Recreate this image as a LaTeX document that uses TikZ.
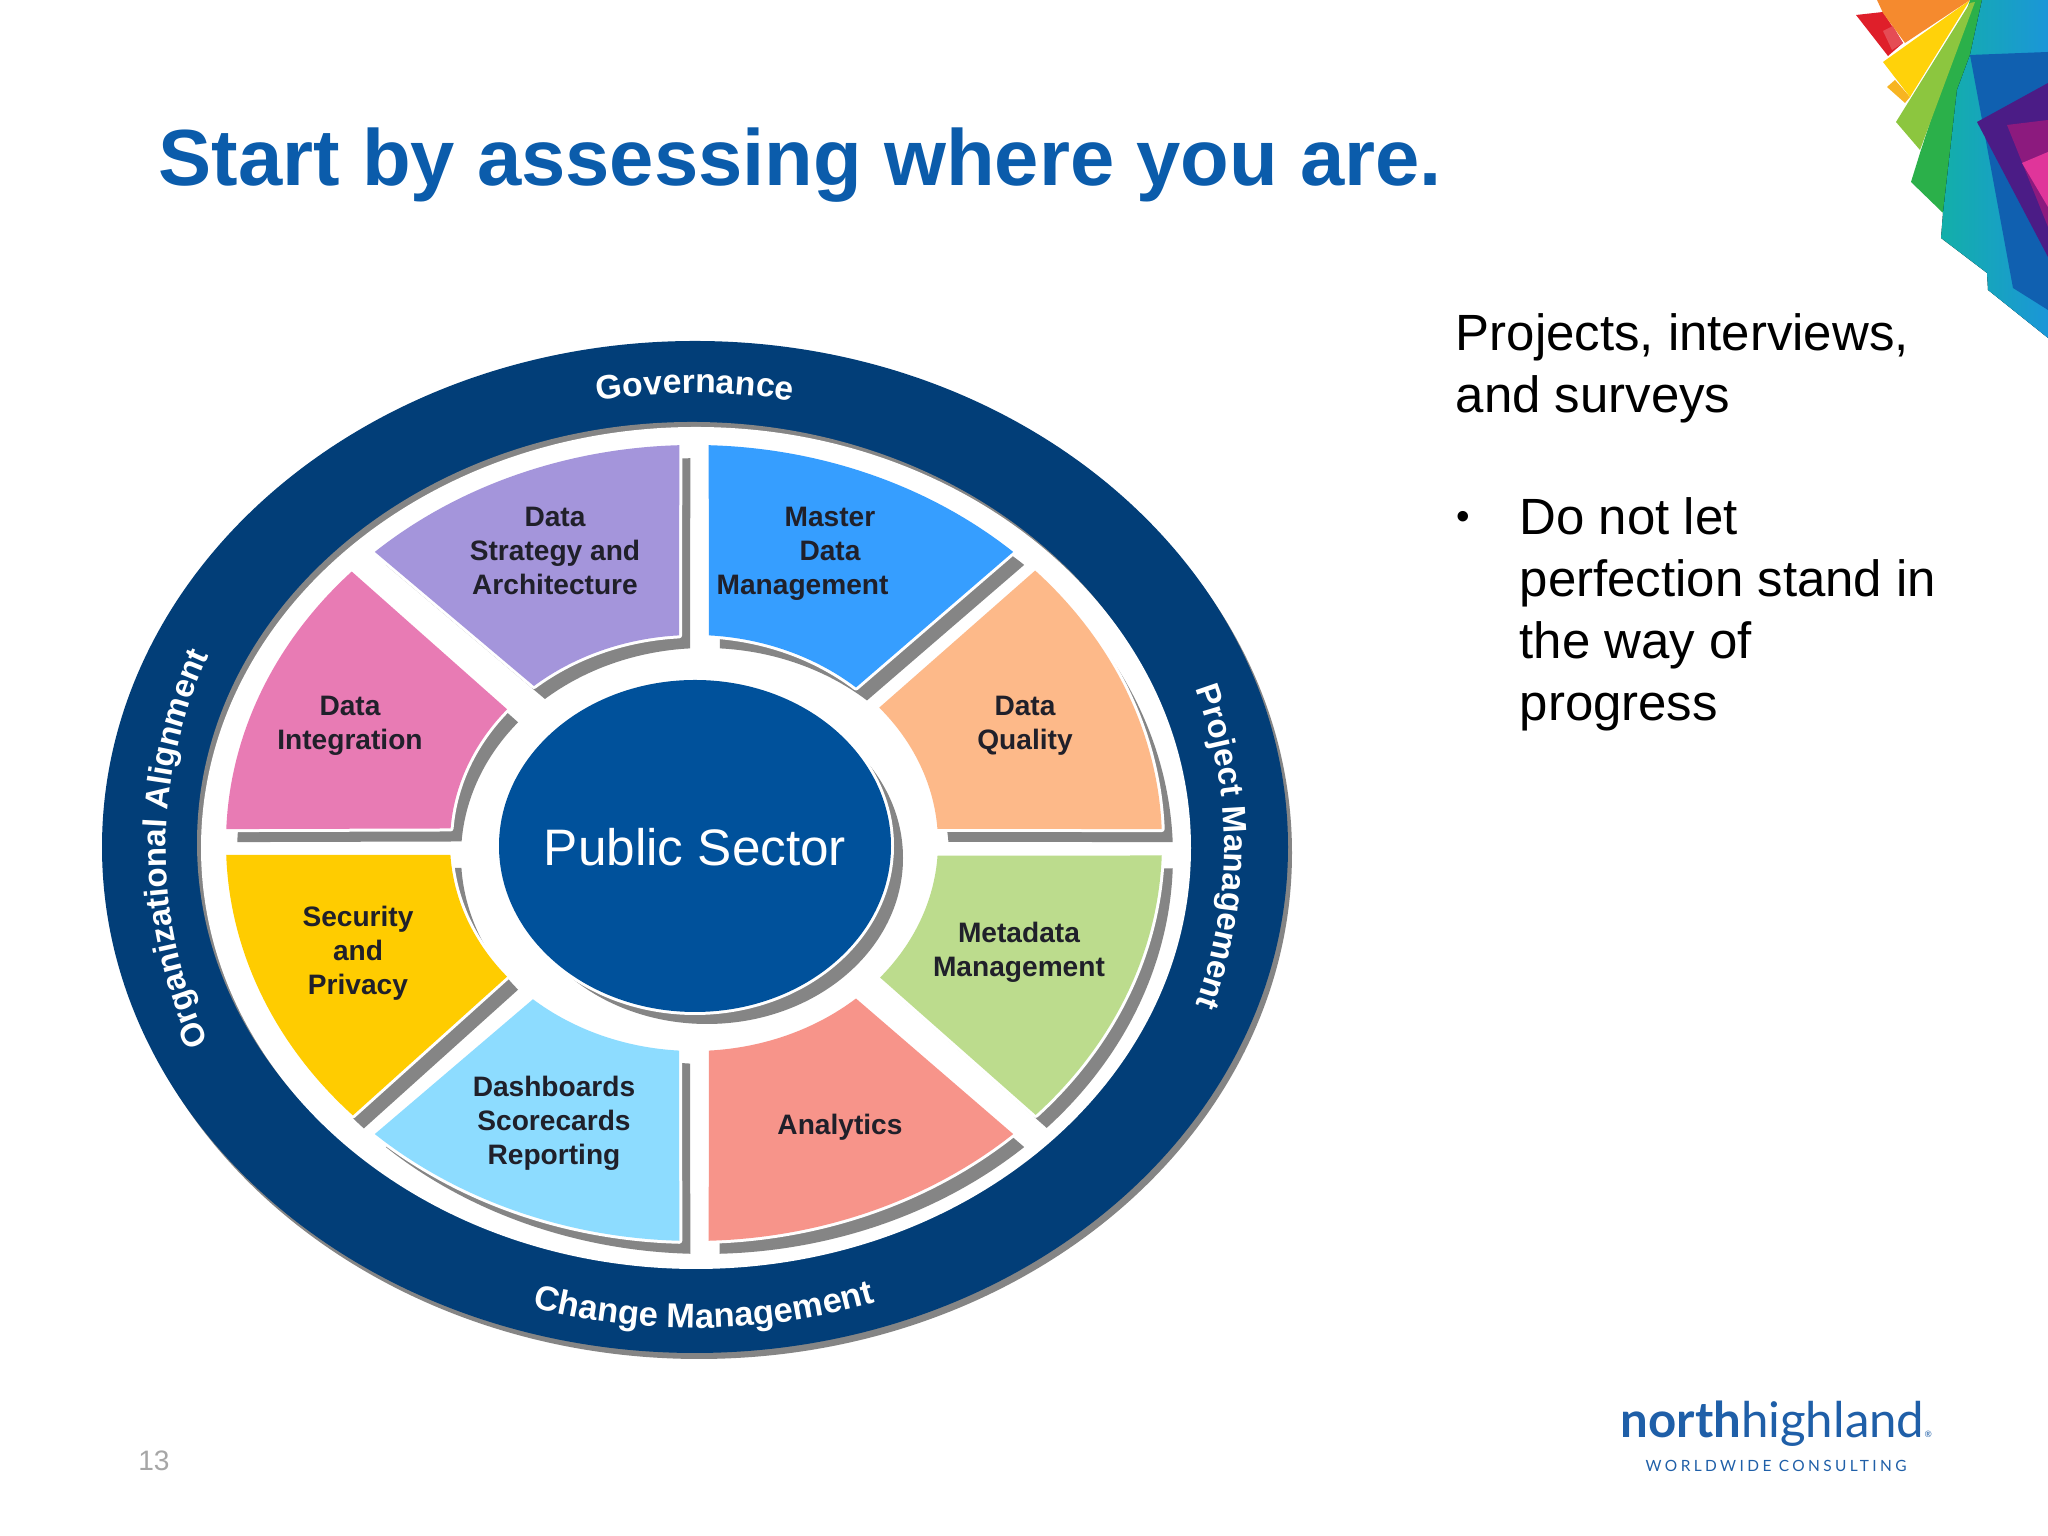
\documentclass[tikz,border=0pt]{standalone}
\usepackage{fontspec}
\setmainfont{Liberation Sans}
\newfontfamily\logofont{Lato}
\usetikzlibrary{decorations.text}
\definecolor{ringblue}{HTML}{023E78}
\definecolor{hubblue}{HTML}{00519B}
\definecolor{titleblue}{HTML}{0B5CAB}
\definecolor{logoblue}{HTML}{1F5FA8}
\definecolor{shadegray}{HTML}{858585}
\definecolor{labelink}{HTML}{20202A}
\definecolor{petalpurple}{HTML}{A495DB}
\definecolor{petalblue}{HTML}{369EFF}
\definecolor{petalorange}{HTML}{FDB989}
\definecolor{petalgreen}{HTML}{BCDC8D}
\definecolor{petalsalmon}{HTML}{F7948A}
\definecolor{petalsky}{HTML}{8DDCFF}
\definecolor{petalyellow}{HTML}{FFCC00}
\definecolor{petalpink}{HTML}{E87BB4}
\definecolor{fanorange}{HTML}{F58A2E}
\definecolor{fanred}{HTML}{DF1F2A}
\definecolor{fanyellow}{HTML}{FFD20A}
\definecolor{fanamber}{HTML}{F7B422}
\definecolor{fanlime}{HTML}{8CC63F}
\definecolor{fangreen}{HTML}{2BB04A}
\definecolor{fanteal}{HTML}{13AFA9}
\definecolor{fansky}{HTML}{1B96D8}
\definecolor{fanblue}{HTML}{1060B0}
\definecolor{fanviolet}{HTML}{4B1C86}
\definecolor{fanplum}{HTML}{8C1A7E}
\definecolor{fanpink}{HTML}{E0359A}
\newcommand{\ringfont}{\color{white}\bfseries\fontsize{9.6}{11}\selectfont}
\newcommand{\sidefont}{\color{white}\bfseries\fontsize{9.4}{11}\selectfont}
\newcommand{\lowfont}{\color{white}\bfseries\fontsize{9.8}{11}\selectfont}
\newcommand{\petal}[5]{%
	\def\petalshape{(#2:4.68 and 3.98) arc[start angle=#2,end angle=#3,x radius=4.68,y radius=3.98] -- (#4:2.44 and 2.08) arc[start angle=#4,end angle=#5,x radius=2.44,y radius=2.08] -- cycle}
	\fill[shadegray,shift={(0.11,-0.13)}] \petalshape;
	\draw[white,line width=0.06cm,line join=round] \petalshape;
	\fill[#1] \petalshape;
}
\tikzset{
	petaltext/.style={text=labelink,font=\bfseries\fontsize{8}{9.7}\selectfont,align=center},
	bodytext/.style={font=\fontsize{14.5}{17.6}\selectfont,align=left,anchor=north west,inner sep=0pt}
}
\begin{document}
\begin{tikzpicture}
	\useasboundingbox (0,0) rectangle (20.48,15.36);
	\fill[white] (0,0) rectangle (20.48,15.36);
	\fill[shadegray] (6.99,6.83) ellipse (5.93 and 5.06);
	\fill[ringblue] (6.95,6.89) ellipse (5.93 and 5.06);
	\fill[shadegray] (6.92,6.93) ellipse (4.95 and 4.21);
	\fill[white] (6.96,6.88) ellipse (4.95 and 4.21);
	\begin{scope}[shift={(6.94,6.93)}]
		\petal{petalpurple}{133}{91.8}{93.5}{131}
		\petal{petalblue}{88.2}{47}{48.4}{86.5}
		\petal{petalorange}{43.2}{2}{3.9}{40.6}
		\petal{petalgreen}{358.2}{316.9}{319.7}{356.5}
		\petal{petalsalmon}{313}{271.8}{273.5}{311.6}
		\petal{petalsky}{268.2}{227}{228.7}{266.5}
		\petal{petalyellow}{223.2}{181.7}{183.3}{220}
		\petal{petalpink}{178}{137}{140}{176}
	\end{scope}
	\fill[shadegray] (7.07,6.78) ellipse (1.96 and 1.66);
	\draw[white,line width=0.06cm] (6.95,6.90) ellipse (1.96 and 1.66);
	\fill[hubblue] (6.95,6.90) ellipse (1.96 and 1.66);
	\node[white,font=\fontsize{14.6}{17}\selectfont] (hub) at (6.95,6.89) {Public Sector};
	\node[petaltext] (strategy) at (5.55,9.85) {Data\\Strategy and\\Architecture};
	\node[petaltext] (master) at (8.30,9.82) {Master\\Data\\Management\hspace*{15.6pt}};
	\node[petaltext] (quality) at (10.25,8.10) {Data\\Quality};
	\node[petaltext] (integration) at (3.50,8.10) {Data\\Integration};
	\node[petaltext] (metadata) at (10.19,5.84) {Metadata\\Management};
	\node[petaltext] (security) at (3.58,5.83) {Security\\and\\Privacy};
	\node[petaltext] (dashboards) at (5.54,4.13) {Dashboards\\Scorecards\\Reporting};
	\node[petaltext] (analytics) at (8.40,4.09) {Analytics};
	\path[decorate,decoration={text along path,text align=center,text={|\ringfont|Governance}}] (130:5.27 and 4.56)++(6.95,6.87) arc[start angle=130,end angle=50,x radius=5.27,y radius=4.56];
	\path[decorate,decoration={text along path,text align=center,text={|\sidefont|Organizational Alignment}}] (250:5.29 and 4.90)++(6.95,6.87) arc[start angle=250,end angle=110,x radius=5.29,y radius=4.90];
	\path[decorate,decoration={text along path,text align=center,text={|\sidefont|Project Management}}] (70:5.29 and 4.90)++(6.95,6.89) arc[start angle=70,end angle=-70,x radius=5.29,y radius=4.90];
	\path[decorate,decoration={text along path,text align=center,text={|\lowfont|Change Management}}] (231:5.60 and 4.79)++(6.95,6.87) arc[start angle=231,end angle=311,x radius=5.60,y radius=4.79];
	\node[anchor=base west,inner sep=0pt,text=titleblue,font=\bfseries\fontsize{22.65}{27}\selectfont] (title) at (1.58,13.50) {Start by assessing where you are.};
	\node[bodytext] (intro) at (14.55,12.23) {Projects, interviews,\\and surveys};
	\node[bodytext,font=\fontsize{11}{13}\selectfont] (bullet) at (14.56,10.25) {•};
	\node[bodytext] (point) at (15.19,10.39) {Do not let\\perfection stand in\\the way of\\progress};
	\node[text=black!35,font=\fontsize{8}{10}\selectfont] (page) at (1.54,0.75) {13};
	\node[anchor=base west,inner sep=0pt,text=logoblue,font=\logofont\fontsize{14}{17}\selectfont] (logo) at (16.20,0.98) {{\bfseries north}highland{\fontsize{2.5}{3}\selectfont ®}};
	\node[anchor=base west,inner sep=0pt,text=logoblue,font=\logofont\fontsize{4.4}{5}\selectfont] (tagline) at (16.45,0.64) {\addfontfeatures{LetterSpace=22}WORLDWIDE CONSULTING};
	\fill[fanred] (18.56,15.21) -- (18.83,15.24) -- (19.03,14.93) -- (18.88,14.80) -- cycle;
	\fill[fanred!80!white] (18.83,15.05) -- (18.93,15.10) -- (19.03,14.93) -- (18.92,14.86) -- cycle;
	\fill[fanamber] (18.87,14.49) -- (18.95,14.56) -- (19.10,14.39) -- (19.05,14.33) -- cycle;
	\fill[fanyellow] (19.70,15.36) -- (18.83,14.74) -- (19.10,14.39) -- cycle;
	\fill[fanorange] (18.77,15.36) -- (19.70,15.36) -- (19.05,14.93) -- (18.83,15.23) -- cycle;
	\fill[fangreen] (19.70,15.36) -- (19.82,15.36) -- (19.90,14.00) -- (19.43,13.23) -- (19.11,13.54) -- (19.20,13.83) -- cycle;
	\fill[fanlime] (19.70,15.33) -- (19.75,15.34) -- (19.20,13.86) -- (18.96,14.14) -- cycle;
	\fill[left color=fanteal,right color=fansky] (19.82,15.36) -- (20.48,15.36) -- (20.48,11.98) -- (19.88,12.46) -- (19.87,12.63) -- (19.41,12.98) -- (19.43,13.23) -- (19.57,14.46) -- (19.70,14.81) -- cycle;
	\fill[fanblue] (19.70,14.81) -- (20.48,14.84) -- (20.48,12.26) -- (20.13,12.48) -- (19.83,14.11) -- cycle;
	\fill[fanviolet] (19.77,14.14) -- (20.48,14.53) -- (20.48,12.79) -- cycle;
	\fill[fanplum] (20.07,14.11) -- (20.48,14.16) -- (20.48,13.09) -- cycle;
	\fill[fanpink] (20.22,13.73) -- (20.48,13.84) -- (20.48,13.29) -- cycle;
\end{tikzpicture}
\end{document}
